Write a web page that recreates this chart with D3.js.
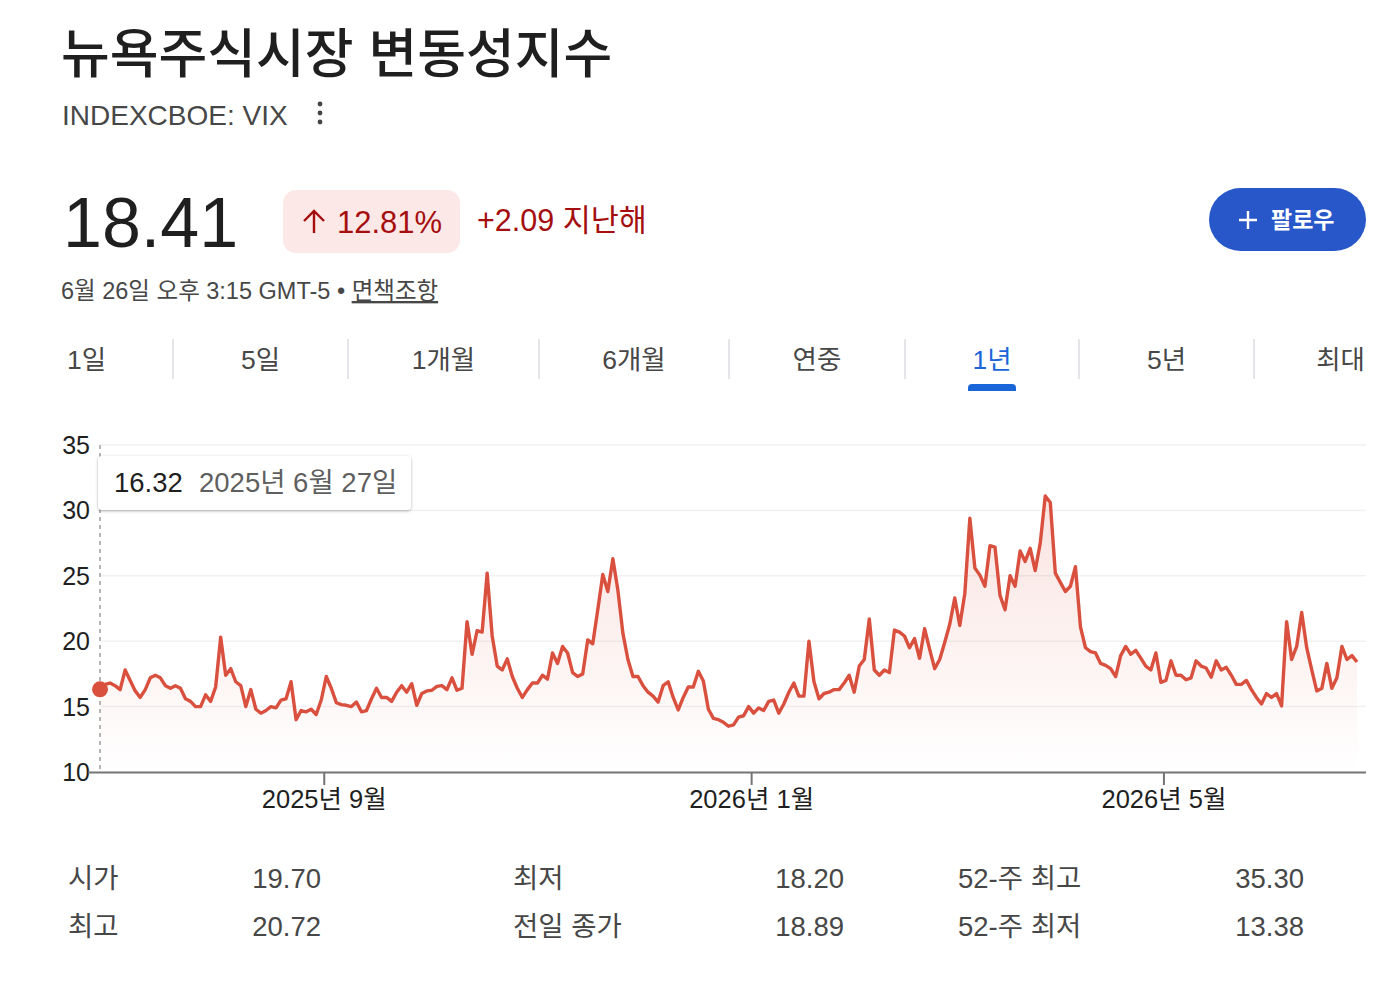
<!DOCTYPE html>
<html lang="ko">
<head>
<meta charset="UTF-8">
<title>VIX</title>
<style>
  body { margin: 0; background: #fff; }
  svg { display: block; font-family: "Liberation Sans", Arial, "Noto Sans CJK KR", sans-serif; }
</style>
</head>
<body>
<svg id="chart"></svg>
<script src="https://cdnjs.cloudflare.com/ajax/libs/d3/7.8.5/d3.min.js"></script>
<script>
// ---- data ----
const startDate = '2025-06-27';
const endDate = '2026-06-26';
const holidays = ['2025-07-04', '2025-09-01', '2025-11-27', '2025-12-25', '2026-01-01',
  '2026-01-19', '2026-02-16', '2026-04-03', '2026-05-25', '2026-06-19'];

// daily close
const vixValues = [
  16.32, 16.7, 16.8, 16.6, 16.3, 17.8, 17.0, 16.2, 15.7, 16.3, 17.2, 17.4, 17.2, 16.6, 16.4, 16.6,
  16.4, 15.6, 15.4, 15.0, 15.0, 15.9, 15.4, 16.5, 20.3, 17.4, 17.9, 16.9, 16.6, 15.0, 16.3, 14.8,
  14.5, 14.7, 15.0, 14.9, 15.5, 15.6, 16.9, 14.0, 14.7, 14.6, 14.8, 14.4, 15.5, 17.3,
  16.4, 15.3, 15.15, 15.1, 15.0, 15.35, 14.6, 14.7, 15.6, 16.4, 15.7, 15.7, 15.4, 16.1, 16.6, 16.1,
  16.75, 15.1, 16.0, 16.2, 16.25, 16.55, 16.6, 16.3, 17.2, 16.25, 16.4, 21.5, 19.0, 20.8, 20.7, 25.2,
  20.4, 18.1, 17.8, 18.65, 17.3, 16.4, 15.7, 16.3, 16.8, 16.8, 17.4, 17.1, 19.1, 18.3,
  19.6, 19.1, 17.6, 17.3, 17.5, 20.1, 19.8, 22.4, 25.1, 23.8, 26.3, 23.9, 20.6, 18.6, 17.3, 17.3,
  16.6, 16.1, 15.8, 15.35, 16.6, 16.9, 15.7, 14.75, 15.7, 16.5, 16.5, 17.7, 16.95, 14.8, 14.1, 14.0,
  13.8, 13.5, 13.6, 14.2, 14.3, 15.0, 14.5, 14.9, 14.7, 15.4, 15.5, 14.5, 15.2, 16.1, 16.8,
  15.8, 15.8, 20.0, 16.9, 15.6, 16.0, 16.1, 16.3, 16.3, 16.8, 17.4, 16.1, 18.1, 18.6, 21.7, 17.8,
  17.4, 17.8, 17.6, 20.85, 20.7, 20.4, 19.5, 20.2, 18.7, 20.95, 19.4, 17.9, 18.6, 19.9, 21.3, 23.3,
  21.2, 23.65,
  29.4, 25.6, 25.05, 24.2, 27.3, 27.2, 23.5, 22.4, 25.0, 24.2, 26.9, 26.1, 27.1, 25.4, 27.5, 31.1,
  30.6, 25.2, 24.5, 23.8, 24.2, 25.7, 21.1, 19.5, 19.2, 19.1, 18.3, 18.15, 17.9, 17.3, 18.9, 19.6, 19.0,
  19.3, 18.7, 18.1, 17.8, 19.1, 16.85, 17.0, 18.5, 17.4, 17.4, 17.05, 17.2, 18.5, 18.1, 17.95, 17.25,
  18.5, 17.8, 18.0, 17.4, 16.7, 16.7, 17.0, 16.3, 15.7, 15.2, 16.0, 15.7, 16.0, 15.05, 21.5, 18.6,
  19.6, 22.2, 19.5, 17.8, 16.2, 16.4, 18.3, 16.4, 17.2, 19.6, 18.6, 18.9, 18.41
];

const yTicks = [10, 15, 20, 25, 30, 35];
const xTickDates = ['2025-09-01', '2026-01-01', '2026-05-01'];
const xTickLabels = ['2025년 9월', '2026년 1월', '2026년 5월'];
const tabLabels = ['1일', '5일', '1개월', '6개월', '연중', '1년', '5년', '최대'];
const statLabels = [['시가', '최고'], ['최저', '전일 종가'], ['52-주 최고', '52-주 최저']];
const statValues = [['19.70', '20.72'], ['18.20', '18.89'], ['35.30', '13.38']];

// ---- setup ----
const W = 1398, H = 990;
const parse = d3.timeParse('%Y-%m-%d');
const fmtDay = d3.timeFormat('%Y-%m-%d');
const svg = d3.select('#chart').attr('width', W).attr('height', H);

// trading days (chart spaces them evenly, one slot per session)
const holidaySet = new Set(holidays);
const days = d3.timeDay.range(parse(startDate), d3.timeDay.offset(parse(endDate), 1))
  .filter(d => d.getDay() !== 0 && d.getDay() !== 6 && !holidaySet.has(fmtDay(d)));
const series = vixValues.map((v, i) => ({ i: i, date: days[Math.min(i, days.length - 1)], value: v }));

// ---- header ----
svg.append('text').attr('x', 61).attr('y', 73)
  .style('font-family', '"Noto Sans CJK KR", sans-serif')
  .attr('font-size', 53).attr('font-weight', 500).attr('fill', '#1f1f1f')
  .text('뉴욕주식시장 변동성지수');

svg.append('text').attr('x', 62).attr('y', 125)
  .attr('font-size', 28).attr('fill', '#474747').text('INDEXCBOE: VIX');
svg.selectAll('.dot3').data([104, 113, 122]).join('circle')
  .attr('cx', 320).attr('cy', d => d).attr('r', 2.4).attr('fill', '#444');

svg.append('text').attr('x', 63).attr('y', 247)
  .attr('font-size', 70).attr('fill', '#1f1f1f').text('18.41');

svg.append('rect').attr('x', 283).attr('y', 190).attr('width', 177).attr('height', 63)
  .attr('rx', 13).attr('fill', '#fce8e6');
svg.append('path').attr('d', 'M314,233 V211 M304,221 L314,211 L324,221')
  .attr('fill', 'none').attr('stroke', '#a50e0e').attr('stroke-width', 2.4);
svg.append('text').attr('x', 337).attr('y', 233)
  .attr('font-size', 31).attr('fill', '#a50e0e').text('12.81%');
svg.append('text').attr('x', 477).attr('y', 231)
  .attr('font-size', 30.5).attr('fill', '#a50e0e').text('+2.09 지난해');

// follow button
svg.append('rect').attr('x', 1209).attr('y', 188).attr('width', 157).attr('height', 63)
  .attr('rx', 31.5).attr('fill', '#2757c8');
svg.append('path').attr('d', 'M1248,211 V229 M1239,220 H1257')
  .attr('stroke', '#fff').attr('stroke-width', 2.4);
svg.append('text').attr('x', 1271).attr('y', 228)
  .attr('font-size', 23).attr('font-weight', 600).attr('fill', '#fff').text('팔로우');

const sub = svg.append('text').attr('x', 61).attr('y', 299)
  .attr('font-size', 23.5).attr('fill', '#474747');
sub.append('tspan').text('6월 26일 오후 3:15 GMT-5 • ');
sub.append('tspan').style('text-decoration', 'underline').text('면책조항');

// ---- tabs ----
const sepX = [173, 348, 539, 729, 905, 1079, 1254];
svg.selectAll('.sep').data(sepX).join('line')
  .attr('x1', d => d).attr('x2', d => d).attr('y1', 339).attr('y2', 379)
  .attr('stroke', '#dadce0').attr('stroke-width', 1.5);
const tabX = tabLabels.map((t, i) => i === 0 ? 67 : i === tabLabels.length - 1 ? 1365 : (sepX[i - 1] + sepX[i]) / 2);
svg.selectAll('.tab').data(tabLabels).join('text')
  .attr('x', (d, i) => tabX[i]).attr('y', 369)
  .attr('text-anchor', (d, i) => i === 0 ? 'start' : i === tabLabels.length - 1 ? 'end' : 'middle')
  .attr('font-size', 26.5)
  .attr('fill', d => d === '1년' ? '#1a66d8' : '#474747')
  .text(d => d);
svg.append('path').attr('d', 'M968,391 V388 A4,4 0 0 1 972,384 H1012 A4,4 0 0 1 1016,388 V391 Z')
  .attr('fill', '#1a66d8');

// ---- chart ----
const x = d3.scaleLinear().domain([0, vixValues.length - 1]).range([100, 1357]);
const y = d3.scaleLinear().domain([10, 35]).range([772, 445]);
// month boundary, between the last session before and the first on or after each tick date
const tickIdx = xTickDates.map(s => d3.bisector(d => d).left(days, parse(s)) - 0.5);

const defs = svg.append('defs');
const grad = defs.append('linearGradient').attr('id', 'fillGrad')
  .attr('gradientUnits', 'userSpaceOnUse').attr('x1', 0).attr('x2', 0).attr('y1', y(31)).attr('y2', y(10));
grad.append('stop').attr('offset', 0).attr('stop-color', '#d9503f').attr('stop-opacity', 0.16);
grad.append('stop').attr('offset', 1).attr('stop-color', '#d9503f').attr('stop-opacity', 0);
const shadow = defs.append('filter').attr('id', 'shadow').attr('x', -0.1).attr('y', -0.3).attr('width', 1.2).attr('height', 1.7);
shadow.append('feDropShadow').attr('dx', 0).attr('dy', 1).attr('stdDeviation', 1.6)
  .attr('flood-color', '#000').attr('flood-opacity', 0.3);

// grid
svg.append('g').selectAll('line').data(yTicks.filter(d => d > 10)).join('line')
  .attr('x1', 100).attr('x2', 1366).attr('y1', d => y(d)).attr('y2', d => y(d))
  .attr('stroke', '#f1f1f1').attr('stroke-width', 1.5);

// y labels
svg.append('g').selectAll('text').data(yTicks).join('text')
  .attr('x', 90).attr('y', d => y(d) + 9).attr('text-anchor', 'end')
  .attr('font-size', 25).attr('fill', '#1f1f1f').text(d => d);

// area + line
const area = d3.area().x(d => x(d.i)).y0(y(10)).y1(d => y(d.value));
const line = d3.line().x(d => x(d.i)).y(d => y(d.value));
svg.append('path').datum(series).attr('d', area).attr('fill', 'url(#fillGrad)');

// cursor
svg.append('line').attr('x1', x(0)).attr('x2', x(0))
  .attr('y1', y(35)).attr('y2', y(10))
  .attr('stroke', '#9e9e9e').attr('stroke-width', 1.5).attr('stroke-dasharray', '4,4');

svg.append('path').datum(series).attr('d', line)
  .attr('fill', 'none').attr('stroke', '#d9503f').attr('stroke-width', 3.4)
  .attr('stroke-linejoin', 'round');

// x axis
const xAxis = d3.axisBottom(x)
  .tickValues(tickIdx)
  .tickFormat((d, i) => xTickLabels[i])
  .tickSize(13).tickSizeOuter(0);
const gx = svg.append('g').attr('transform', `translate(0,${y(10)})`).call(xAxis);
gx.select('.domain').attr('d', `M88,0.5H1366`).attr('stroke', '#757575').attr('stroke-width', 2);
gx.selectAll('.tick line').attr('stroke', '#757575').attr('stroke-width', 2);
gx.selectAll('.tick text').attr('font-size', 25.5).attr('fill', '#1f1f1f')
  .attr('font-family', '"Liberation Sans", Arial, "Noto Sans CJK KR", sans-serif')
  .attr('dy', 20);

// hover dot + tooltip
svg.append('circle').attr('cx', x(0)).attr('cy', y(series[0].value))
  .attr('r', 8).attr('fill', '#d9503f');
svg.append('rect').attr('x', 98).attr('y', 456).attr('width', 313).attr('height', 54)
  .attr('rx', 4).attr('fill', '#fff').attr('filter', 'url(#shadow)');
svg.append('text').attr('x', 114).attr('y', 492).attr('font-size', 27.5).attr('fill', '#1f1f1f')
  .text(d3.format('.2f')(series[0].value));
svg.append('text').attr('x', 199).attr('y', 492).attr('font-size', 27.5).attr('fill', '#5f5f5f')
  .text(d3.timeFormat('%Y년 %-m월 %-d일')(series[0].date));

// ---- stats ----
const colLabelX = [68, 513, 958];
const colValueX = [321, 844, 1304];
const rowY = [888, 936];
statLabels.forEach((col, c) => {
  col.forEach((lab, r) => {
    svg.append('text').attr('x', colLabelX[c]).attr('y', rowY[r])
      .attr('font-size', 27.5).attr('fill', '#474747').text(lab);
    svg.append('text').attr('x', colValueX[c]).attr('y', rowY[r]).attr('text-anchor', 'end')
      .attr('font-size', 27.5).attr('fill', '#474747').text(statValues[c][r]);
  });
});
</script>
</body>
</html>
